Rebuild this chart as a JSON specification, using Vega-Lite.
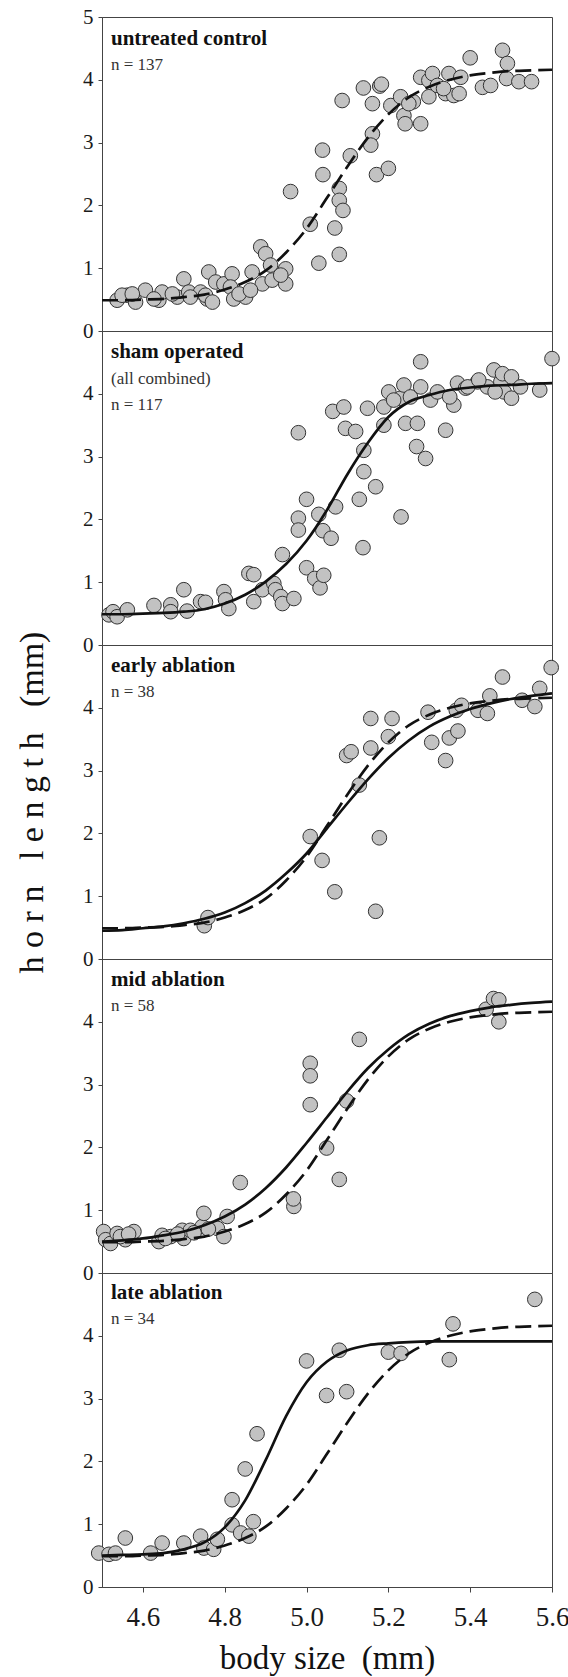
{
"$schema":"https://vega.github.io/schema/vega-lite/v6.json",
"background":"white",
"padding":{"left":14,"top":5,"right":0,"bottom":0},
"spacing":0,
"bounds":"flush",
"config":{"view":{"stroke":"#444","strokeWidth":1},"axis":{"grid":false,"domainColor":"#444","tickColor":"#444","labelFont":"Liberation Serif","titleFont":"Liberation Serif","labelColor":"#1a1a1a","titleColor":"#111","titleFontWeight":"normal"},"text":{"font":"Liberation Serif"}},
"datasets":{
"pts":[
{"p":1,"x":4.537,"y":0.49},{"p":1,"x":4.562,"y":0.57},{"p":1,"x":4.582,"y":0.46},{"p":1,"x":4.606,"y":0.65},{"p":1,"x":4.639,"y":0.49},{"p":1,"x":4.647,"y":0.62},{"p":1,"x":4.684,"y":0.54},{"p":1,"x":4.70,"y":0.83},{"p":1,"x":4.712,"y":0.62},{"p":1,"x":4.741,"y":0.62},{"p":1,"x":4.757,"y":0.51},{"p":1,"x":4.761,"y":0.94},{"p":1,"x":4.778,"y":0.78},{"p":1,"x":4.798,"y":0.75},{"p":1,"x":4.818,"y":0.91},{"p":1,"x":4.814,"y":0.70},{"p":1,"x":4.822,"y":0.51},{"p":1,"x":4.851,"y":0.54},{"p":1,"x":4.867,"y":0.94},{"p":1,"x":4.888,"y":1.34},{"p":1,"x":4.90,"y":1.23},{"p":1,"x":4.912,"y":1.05},{"p":1,"x":4.892,"y":0.75},{"p":1,"x":4.916,"y":0.81},{"p":1,"x":4.949,"y":0.99},{"p":1,"x":4.949,"y":0.75},
{"p":1,"x":4.549,"y":0.57},{"p":1,"x":4.574,"y":0.59},{"p":1,"x":4.627,"y":0.51},{"p":1,"x":4.672,"y":0.59},{"p":1,"x":4.716,"y":0.54},{"p":1,"x":4.753,"y":0.57},{"p":1,"x":4.77,"y":0.46},{"p":1,"x":4.835,"y":0.59},{"p":1,"x":4.863,"y":0.65},{"p":1,"x":4.937,"y":0.89},
{"p":1,"x":4.961,"y":2.22},{"p":1,"x":5.009,"y":1.70},{"p":1,"x":5.030,"y":1.08},{"p":1,"x":5.039,"y":2.88},{"p":1,"x":5.040,"y":2.49},{"p":1,"x":5.080,"y":2.27},{"p":1,"x":5.080,"y":2.08},{"p":1,"x":5.089,"y":1.92},{"p":1,"x":5.069,"y":1.64},{"p":1,"x":5.080,"y":1.22},{"p":1,"x":5.107,"y":2.79},
{"p":1,"x":5.087,"y":3.67},{"p":1,"x":5.139,"y":3.87},{"p":1,"x":5.179,"y":3.90},{"p":1,"x":5.161,"y":3.62},{"p":1,"x":5.206,"y":3.59},{"p":1,"x":5.230,"y":3.73},{"p":1,"x":5.238,"y":3.43},{"p":1,"x":5.241,"y":3.30},{"p":1,"x":5.261,"y":3.65},{"p":1,"x":5.279,"y":3.30},{"p":1,"x":5.161,"y":3.14},{"p":1,"x":5.157,"y":2.96},{"p":1,"x":5.279,"y":4.04},{"p":1,"x":5.299,"y":3.99},{"p":1,"x":5.308,"y":4.10},{"p":1,"x":5.299,"y":3.73},{"p":1,"x":5.320,"y":3.91},{"p":1,"x":5.348,"y":4.10},{"p":1,"x":5.340,"y":3.78},{"p":1,"x":5.360,"y":3.75},{"p":1,"x":5.373,"y":3.78},{"p":1,"x":5.377,"y":4.04},{"p":1,"x":5.400,"y":4.35},{"p":1,"x":5.430,"y":3.88},{"p":1,"x":5.450,"y":3.91},{"p":1,"x":5.479,"y":4.47},{"p":1,"x":5.491,"y":4.26},{"p":1,"x":5.489,"y":4.02},{"p":1,"x":5.171,"y":2.49},{"p":1,"x":5.200,"y":2.59},{"p":1,"x":5.519,"y":3.97},{"p":1,"x":5.550,"y":3.97},{"p":1,"x":5.183,"y":3.93},{"p":1,"x":5.25,"y":3.62},{"p":1,"x":5.335,"y":3.86},
{"p":2,"x":4.517,"y":0.48},{"p":2,"x":4.527,"y":0.53},{"p":2,"x":4.537,"y":0.45},{"p":2,"x":4.562,"y":0.56},{"p":2,"x":4.627,"y":0.63},{"p":2,"x":4.668,"y":0.64},{"p":2,"x":4.668,"y":0.53},{"p":2,"x":4.70,"y":0.88},{"p":2,"x":4.708,"y":0.54},{"p":2,"x":4.741,"y":0.69},{"p":2,"x":4.753,"y":0.68},{"p":2,"x":4.798,"y":0.85},{"p":2,"x":4.802,"y":0.72},{"p":2,"x":4.810,"y":0.58},{"p":2,"x":4.859,"y":1.14},{"p":2,"x":4.871,"y":1.12},{"p":2,"x":4.871,"y":0.69},{"p":2,"x":4.892,"y":0.88},{"p":2,"x":4.92,"y":0.98},{"p":2,"x":4.924,"y":0.88},{"p":2,"x":4.937,"y":0.77},{"p":2,"x":4.941,"y":0.66},{"p":2,"x":4.969,"y":0.74},{"p":2,"x":4.941,"y":1.44},{"p":2,"x":5.0,"y":1.23},{"p":2,"x":5.02,"y":1.06},{"p":2,"x":5.033,"y":0.91},{"p":2,"x":5.042,"y":1.11},
{"p":2,"x":4.980,"y":3.38},{"p":2,"x":4.980,"y":2.02},{"p":2,"x":4.980,"y":1.83},{"p":2,"x":5.000,"y":2.32},{"p":2,"x":5.030,"y":2.08},{"p":2,"x":5.040,"y":1.82},{"p":2,"x":5.060,"y":1.70},{"p":2,"x":5.071,"y":2.20},{"p":2,"x":5.064,"y":3.72},{"p":2,"x":5.091,"y":3.79},{"p":2,"x":5.095,"y":3.45},{"p":2,"x":5.120,"y":3.40},{"p":2,"x":5.140,"y":3.10},{"p":2,"x":5.140,"y":2.76},{"p":2,"x":5.129,"y":2.32},{"p":2,"x":5.169,"y":2.52},{"p":2,"x":5.138,"y":1.55},{"p":2,"x":5.231,"y":2.04},
{"p":2,"x":5.279,"y":4.51},{"p":2,"x":5.149,"y":3.77},{"p":2,"x":5.189,"y":3.50},{"p":2,"x":5.189,"y":3.79},{"p":2,"x":5.201,"y":4.03},{"p":2,"x":5.230,"y":3.93},{"p":2,"x":5.238,"y":4.14},{"p":2,"x":5.242,"y":3.53},{"p":2,"x":5.254,"y":3.95},{"p":2,"x":5.271,"y":3.53},{"p":2,"x":5.279,"y":4.11},{"p":2,"x":5.269,"y":3.16},{"p":2,"x":5.291,"y":2.97},{"p":2,"x":5.303,"y":3.90},{"p":2,"x":5.320,"y":4.03},{"p":2,"x":5.340,"y":3.42},{"p":2,"x":5.360,"y":3.82},{"p":2,"x":5.369,"y":4.17},{"p":2,"x":5.389,"y":4.09},{"p":2,"x":5.418,"y":4.19},{"p":2,"x":5.442,"y":4.11},{"p":2,"x":5.458,"y":4.38},{"p":2,"x":5.475,"y":4.19},{"p":2,"x":5.479,"y":4.32},{"p":2,"x":5.483,"y":4.03},{"p":2,"x":5.213,"y":3.90},{"p":2,"x":5.350,"y":3.95},{"p":2,"x":5.394,"y":4.11},{"p":2,"x":5.461,"y":4.03},{"p":2,"x":5.501,"y":4.27},{"p":2,"x":5.501,"y":3.93},{"p":2,"x":5.523,"y":4.11},{"p":2,"x":5.570,"y":4.06},{"p":2,"x":5.600,"y":4.56},{"p":2,"x":5.421,"y":4.22},
{"p":3,"x":4.750,"y":0.53},{"p":3,"x":4.759,"y":0.66},{"p":3,"x":5.009,"y":1.95},{"p":3,"x":5.038,"y":1.57},{"p":3,"x":5.069,"y":1.07},{"p":3,"x":5.098,"y":3.24},{"p":3,"x":5.109,"y":3.30},{"p":3,"x":5.129,"y":2.77},{"p":3,"x":5.157,"y":3.83},{"p":3,"x":5.157,"y":3.36},{"p":3,"x":5.178,"y":1.93},{"p":3,"x":5.169,"y":0.76},{"p":3,"x":5.200,"y":3.54},{"p":3,"x":5.209,"y":3.83},{"p":3,"x":5.297,"y":3.93},{"p":3,"x":5.306,"y":3.45},{"p":3,"x":5.340,"y":3.16},{"p":3,"x":5.349,"y":3.52},{"p":3,"x":5.370,"y":3.63},{"p":3,"x":5.366,"y":3.96},{"p":3,"x":5.379,"y":4.04},{"p":3,"x":5.419,"y":3.96},{"p":3,"x":5.442,"y":3.91},{"p":3,"x":5.448,"y":4.19},{"p":3,"x":5.479,"y":4.49},{"p":3,"x":5.527,"y":4.12},{"p":3,"x":5.558,"y":4.02},{"p":3,"x":5.570,"y":4.31},{"p":3,"x":5.598,"y":4.64},
{"p":4,"x":4.504,"y":0.66},{"p":4,"x":4.509,"y":0.53},{"p":4,"x":4.521,"y":0.47},{"p":4,"x":4.537,"y":0.63},{"p":4,"x":4.557,"y":0.53},{"p":4,"x":4.578,"y":0.66},{"p":4,"x":4.639,"y":0.50},{"p":4,"x":4.647,"y":0.60},{"p":4,"x":4.668,"y":0.58},{"p":4,"x":4.696,"y":0.68},{"p":4,"x":4.70,"y":0.55},{"p":4,"x":4.716,"y":0.68},{"p":4,"x":4.745,"y":0.74},{"p":4,"x":4.749,"y":0.95},{"p":4,"x":4.782,"y":0.71},{"p":4,"x":4.798,"y":0.58},{"p":4,"x":4.806,"y":0.90},{"p":4,"x":4.969,"y":1.06},{"p":4,"x":4.545,"y":0.58},{"p":4,"x":4.565,"y":0.62},{"p":4,"x":4.655,"y":0.55},{"p":4,"x":4.685,"y":0.62},{"p":4,"x":4.725,"y":0.64},{"p":4,"x":4.76,"y":0.70},
{"p":4,"x":4.838,"y":1.44},{"p":4,"x":4.968,"y":1.18},{"p":4,"x":5.009,"y":3.34},{"p":4,"x":5.009,"y":3.14},{"p":4,"x":5.009,"y":2.68},{"p":4,"x":5.049,"y":1.99},{"p":4,"x":5.080,"y":1.49},{"p":4,"x":5.098,"y":2.74},{"p":4,"x":5.129,"y":3.72},{"p":4,"x":5.439,"y":4.20},{"p":4,"x":5.457,"y":4.37},{"p":4,"x":5.470,"y":4.35},{"p":4,"x":5.470,"y":4.00},
{"p":5,"x":4.492,"y":0.54},{"p":5,"x":4.517,"y":0.52},{"p":5,"x":4.533,"y":0.54},{"p":5,"x":4.557,"y":0.78},{"p":5,"x":4.619,"y":0.54},{"p":5,"x":4.647,"y":0.70},{"p":5,"x":4.70,"y":0.70},{"p":5,"x":4.741,"y":0.81},{"p":5,"x":4.749,"y":0.62},{"p":5,"x":4.773,"y":0.60},{"p":5,"x":4.782,"y":0.76},{"p":5,"x":4.818,"y":0.99},{"p":5,"x":4.818,"y":1.39},{"p":5,"x":4.839,"y":0.86},{"p":5,"x":4.859,"y":0.81},{"p":5,"x":4.87,"y":1.04},
{"p":5,"x":4.850,"y":1.88},{"p":5,"x":4.879,"y":2.44},{"p":5,"x":5.000,"y":3.60},{"p":5,"x":5.049,"y":3.05},{"p":5,"x":5.080,"y":3.77},{"p":5,"x":5.098,"y":3.11},{"p":5,"x":5.200,"y":3.74},{"p":5,"x":5.231,"y":3.72},{"p":5,"x":5.349,"y":3.62},{"p":5,"x":5.358,"y":4.19},{"p":5,"x":5.558,"y":4.58}
],
"curves":[
{"c":"control","x":4.5,"y":0.49},{"c":"control","x":4.55,"y":0.49},{"c":"control","x":4.6,"y":0.50},{"c":"control","x":4.65,"y":0.51},{"c":"control","x":4.7,"y":0.54},{"c":"control","x":4.75,"y":0.58},{"c":"control","x":4.8,"y":0.66},{"c":"control","x":4.85,"y":0.78},{"c":"control","x":4.9,"y":0.96},{"c":"control","x":4.95,"y":1.25},{"c":"control","x":5.0,"y":1.63},{"c":"control","x":5.05,"y":2.12},{"c":"control","x":5.1,"y":2.62},{"c":"control","x":5.15,"y":3.08},{"c":"control","x":5.2,"y":3.45},{"c":"control","x":5.25,"y":3.72},{"c":"control","x":5.3,"y":3.89},{"c":"control","x":5.35,"y":4.0},{"c":"control","x":5.4,"y":4.07},{"c":"control","x":5.45,"y":4.11},{"c":"control","x":5.5,"y":4.14},{"c":"control","x":5.55,"y":4.15},{"c":"control","x":5.6,"y":4.16},
{"c":"sham","x":4.5,"y":0.49},{"c":"sham","x":4.55,"y":0.49},{"c":"sham","x":4.6,"y":0.50},{"c":"sham","x":4.65,"y":0.51},{"c":"sham","x":4.7,"y":0.53},{"c":"sham","x":4.75,"y":0.57},{"c":"sham","x":4.8,"y":0.66},{"c":"sham","x":4.85,"y":0.80},{"c":"sham","x":4.9,"y":1.01},{"c":"sham","x":4.95,"y":1.29},{"c":"sham","x":5.0,"y":1.66},{"c":"sham","x":5.05,"y":2.15},{"c":"sham","x":5.1,"y":2.72},{"c":"sham","x":5.15,"y":3.22},{"c":"sham","x":5.2,"y":3.63},{"c":"sham","x":5.25,"y":3.87},{"c":"sham","x":5.3,"y":3.98},{"c":"sham","x":5.35,"y":4.06},{"c":"sham","x":5.4,"y":4.10},{"c":"sham","x":5.45,"y":4.13},{"c":"sham","x":5.5,"y":4.14},{"c":"sham","x":5.55,"y":4.16},{"c":"sham","x":5.6,"y":4.17},
{"c":"early","x":4.5,"y":0.45},{"c":"early","x":4.55,"y":0.46},{"c":"early","x":4.6,"y":0.49},{"c":"early","x":4.65,"y":0.52},{"c":"early","x":4.7,"y":0.57},{"c":"early","x":4.75,"y":0.64},{"c":"early","x":4.8,"y":0.74},{"c":"early","x":4.85,"y":0.89},{"c":"early","x":4.9,"y":1.09},{"c":"early","x":4.95,"y":1.36},{"c":"early","x":5.0,"y":1.68},{"c":"early","x":5.05,"y":2.08},{"c":"early","x":5.1,"y":2.48},{"c":"early","x":5.15,"y":2.86},{"c":"early","x":5.2,"y":3.2},{"c":"early","x":5.25,"y":3.48},{"c":"early","x":5.3,"y":3.7},{"c":"early","x":5.35,"y":3.86},{"c":"early","x":5.4,"y":3.98},{"c":"early","x":5.45,"y":4.07},{"c":"early","x":5.5,"y":4.14},{"c":"early","x":5.55,"y":4.19},{"c":"early","x":5.6,"y":4.23},
{"c":"mid","x":4.5,"y":0.5},{"c":"mid","x":4.55,"y":0.52},{"c":"mid","x":4.6,"y":0.55},{"c":"mid","x":4.65,"y":0.60},{"c":"mid","x":4.7,"y":0.66},{"c":"mid","x":4.75,"y":0.76},{"c":"mid","x":4.8,"y":0.9},{"c":"mid","x":4.85,"y":1.09},{"c":"mid","x":4.9,"y":1.35},{"c":"mid","x":4.95,"y":1.68},{"c":"mid","x":5.0,"y":2.07},{"c":"mid","x":5.05,"y":2.48},{"c":"mid","x":5.1,"y":2.89},{"c":"mid","x":5.15,"y":3.26},{"c":"mid","x":5.2,"y":3.56},{"c":"mid","x":5.25,"y":3.80},{"c":"mid","x":5.3,"y":3.97},{"c":"mid","x":5.35,"y":4.09},{"c":"mid","x":5.4,"y":4.17},{"c":"mid","x":5.45,"y":4.23},{"c":"mid","x":5.5,"y":4.27},{"c":"mid","x":5.55,"y":4.30},{"c":"mid","x":5.6,"y":4.32},
{"c":"late","x":4.5,"y":0.5},{"c":"late","x":4.55,"y":0.51},{"c":"late","x":4.6,"y":0.52},{"c":"late","x":4.65,"y":0.54},{"c":"late","x":4.7,"y":0.6},{"c":"late","x":4.75,"y":0.71},{"c":"late","x":4.8,"y":0.95},{"c":"late","x":4.85,"y":1.38},{"c":"late","x":4.9,"y":2.02},{"c":"late","x":4.95,"y":2.72},{"c":"late","x":5.0,"y":3.26},{"c":"late","x":5.05,"y":3.59},{"c":"late","x":5.1,"y":3.77},{"c":"late","x":5.15,"y":3.85},{"c":"late","x":5.2,"y":3.88},{"c":"late","x":5.25,"y":3.90},{"c":"late","x":5.3,"y":3.91},{"c":"late","x":5.4,"y":3.91},{"c":"late","x":5.5,"y":3.91},{"c":"late","x":5.6,"y":3.91}
]
},
"vconcat":[
{"width":450,"height":314,
"layer":[
{"data":{"name":"pts"},"transform":[{"filter":"datum.p === 1"}],"mark":{"type":"circle","size":215,"opacity":1,"fill":"#c2c2c2","stroke":"#333","strokeWidth":1},
"encoding":{"x":{"field":"x","type":"quantitative","scale":{"domain":[4.5,5.6],"nice":false,"zero":false},"axis":null},"y":{"field":"y","type":"quantitative","scale":{"domain":[0,5],"nice":false},"axis":{"values":[0,1,2,3,4,5],"title":null,"tickSize":4,"labelFontSize":21,"labelPadding":5}}}},
{"data":{"name":"curves"},"transform":[{"filter":"datum.c === 'control'"}],"mark":{"type":"line","color":"#111","strokeWidth":2.7,"strokeDash":[16,7],"interpolate":"monotone"},
"encoding":{"x":{"field":"x","type":"quantitative","axis":null},"y":{"field":"y","type":"quantitative","axis":{"values":[0,1,2,3,4,5],"title":null,"tickSize":4,"labelFontSize":21,"labelPadding":5}}}},
{"data":{"values":[{"t":"untreated control"}]},"mark":{"type":"text","font":"Liberation Serif","fontSize":21,"fontWeight":"bold","align":"left","baseline":"alphabetic","color":"#111"},
"encoding":{"x":{"datum":4.522,"type":"quantitative","axis":null},"y":{"datum":4.56,"type":"quantitative","axis":{"values":[0,1,2,3,4,5],"title":null,"tickSize":4,"labelFontSize":21,"labelPadding":5}},"text":{"field":"t","type":"nominal"}}},
{"data":{"values":[{"t":"n = 137"}]},"mark":{"type":"text","font":"Liberation Serif","fontSize":17,"align":"left","baseline":"alphabetic","color":"#333"},
"encoding":{"x":{"datum":4.522,"type":"quantitative","axis":null},"y":{"datum":4.16,"type":"quantitative","axis":{"values":[0,1,2,3,4,5],"title":null,"tickSize":4,"labelFontSize":21,"labelPadding":5}},"text":{"field":"t","type":"nominal"}}}
]},
{"width":450,"height":314,
"layer":[
{"data":{"name":"pts"},"transform":[{"filter":"datum.p === 2"}],"mark":{"type":"circle","size":215,"opacity":1,"fill":"#c2c2c2","stroke":"#333","strokeWidth":1},
"encoding":{"x":{"field":"x","type":"quantitative","scale":{"domain":[4.5,5.6],"nice":false,"zero":false},"axis":null},"y":{"field":"y","type":"quantitative","scale":{"domain":[0,5],"nice":false},"axis":{"values":[0,1,2,3,4],"title":null,"tickSize":4,"labelFontSize":21,"labelPadding":5}}}},
{"data":{"name":"curves"},"transform":[{"filter":"datum.c === 'sham'"}],"mark":{"type":"line","color":"#111","strokeWidth":2.7,"interpolate":"monotone"},
"encoding":{"x":{"field":"x","type":"quantitative","axis":null},"y":{"field":"y","type":"quantitative","axis":{"values":[0,1,2,3,4],"title":null,"tickSize":4,"labelFontSize":21,"labelPadding":5}}}},
{"data":{"values":[{"t":"sham operated"}]},"mark":{"type":"text","font":"Liberation Serif","fontSize":21,"fontWeight":"bold","align":"left","baseline":"alphabetic","color":"#111"},
"encoding":{"x":{"datum":4.522,"type":"quantitative","axis":null},"y":{"datum":4.57,"type":"quantitative","axis":{"values":[0,1,2,3,4],"title":null,"tickSize":4,"labelFontSize":21,"labelPadding":5}},"text":{"field":"t","type":"nominal"}}},
{"data":{"values":[{"t":"(all combined)"}]},"mark":{"type":"text","font":"Liberation Serif","fontSize":17,"align":"left","baseline":"alphabetic","color":"#333"},
"encoding":{"x":{"datum":4.522,"type":"quantitative","axis":null},"y":{"datum":4.15,"type":"quantitative","axis":{"values":[0,1,2,3,4],"title":null,"tickSize":4,"labelFontSize":21,"labelPadding":5}},"text":{"field":"t","type":"nominal"}}},
{"data":{"values":[{"t":"n = 117"}]},"mark":{"type":"text","font":"Liberation Serif","fontSize":17,"align":"left","baseline":"alphabetic","color":"#333"},
"encoding":{"x":{"datum":4.522,"type":"quantitative","axis":null},"y":{"datum":3.74,"type":"quantitative","axis":{"values":[0,1,2,3,4],"title":null,"tickSize":4,"labelFontSize":21,"labelPadding":5}},"text":{"field":"t","type":"nominal"}}}
]},
{"width":450,"height":314,
"layer":[
{"data":{"name":"pts"},"transform":[{"filter":"datum.p === 3"}],"mark":{"type":"circle","size":215,"opacity":1,"fill":"#c2c2c2","stroke":"#333","strokeWidth":1},
"encoding":{"x":{"field":"x","type":"quantitative","scale":{"domain":[4.5,5.6],"nice":false,"zero":false},"axis":null},"y":{"field":"y","type":"quantitative","scale":{"domain":[0,5],"nice":false},"axis":{"values":[0,1,2,3,4],"title":"h o r n \u00a0 l e n g t h \u00a0 (mm)","titleFontSize":34,"titlePadding":33,"tickSize":4,"labelFontSize":21,"labelPadding":5}}}},
{"data":{"name":"curves"},"transform":[{"filter":"datum.c === 'control'"}],"mark":{"type":"line","color":"#111","strokeWidth":2.7,"strokeDash":[16,7],"interpolate":"monotone"},
"encoding":{"x":{"field":"x","type":"quantitative","axis":null},"y":{"field":"y","type":"quantitative","axis":{"values":[0,1,2,3,4],"title":"h o r n \u00a0 l e n g t h \u00a0 (mm)","titleFontSize":34,"titlePadding":33,"tickSize":4,"labelFontSize":21,"labelPadding":5}}}},
{"data":{"name":"curves"},"transform":[{"filter":"datum.c === 'early'"}],"mark":{"type":"line","color":"#111","strokeWidth":2.7,"interpolate":"monotone"},
"encoding":{"x":{"field":"x","type":"quantitative","axis":null},"y":{"field":"y","type":"quantitative","axis":{"values":[0,1,2,3,4],"title":"h o r n \u00a0 l e n g t h \u00a0 (mm)","titleFontSize":34,"titlePadding":33,"tickSize":4,"labelFontSize":21,"labelPadding":5}}}},
{"data":{"values":[{"t":"early ablation"}]},"mark":{"type":"text","font":"Liberation Serif","fontSize":21,"fontWeight":"bold","align":"left","baseline":"alphabetic","color":"#111"},
"encoding":{"x":{"datum":4.522,"type":"quantitative","axis":null},"y":{"datum":4.57,"type":"quantitative","axis":{"values":[0,1,2,3,4],"title":"h o r n \u00a0 l e n g t h \u00a0 (mm)","titleFontSize":34,"titlePadding":33,"tickSize":4,"labelFontSize":21,"labelPadding":5}},"text":{"field":"t","type":"nominal"}}},
{"data":{"values":[{"t":"n = 38"}]},"mark":{"type":"text","font":"Liberation Serif","fontSize":17,"align":"left","baseline":"alphabetic","color":"#333"},
"encoding":{"x":{"datum":4.522,"type":"quantitative","axis":null},"y":{"datum":4.17,"type":"quantitative","axis":{"values":[0,1,2,3,4],"title":"h o r n \u00a0 l e n g t h \u00a0 (mm)","titleFontSize":34,"titlePadding":33,"tickSize":4,"labelFontSize":21,"labelPadding":5}},"text":{"field":"t","type":"nominal"}}}
]},
{"width":450,"height":314,
"layer":[
{"data":{"name":"pts"},"transform":[{"filter":"datum.p === 4"}],"mark":{"type":"circle","size":215,"opacity":1,"fill":"#c2c2c2","stroke":"#333","strokeWidth":1},
"encoding":{"x":{"field":"x","type":"quantitative","scale":{"domain":[4.5,5.6],"nice":false,"zero":false},"axis":null},"y":{"field":"y","type":"quantitative","scale":{"domain":[0,5],"nice":false},"axis":{"values":[0,1,2,3,4],"title":null,"tickSize":4,"labelFontSize":21,"labelPadding":5}}}},
{"data":{"name":"curves"},"transform":[{"filter":"datum.c === 'control'"}],"mark":{"type":"line","color":"#111","strokeWidth":2.7,"strokeDash":[16,7],"interpolate":"monotone"},
"encoding":{"x":{"field":"x","type":"quantitative","axis":null},"y":{"field":"y","type":"quantitative","axis":{"values":[0,1,2,3,4],"title":null,"tickSize":4,"labelFontSize":21,"labelPadding":5}}}},
{"data":{"name":"curves"},"transform":[{"filter":"datum.c === 'mid'"}],"mark":{"type":"line","color":"#111","strokeWidth":2.7,"interpolate":"monotone"},
"encoding":{"x":{"field":"x","type":"quantitative","axis":null},"y":{"field":"y","type":"quantitative","axis":{"values":[0,1,2,3,4],"title":null,"tickSize":4,"labelFontSize":21,"labelPadding":5}}}},
{"data":{"values":[{"t":"mid ablation"}]},"mark":{"type":"text","font":"Liberation Serif","fontSize":21,"fontWeight":"bold","align":"left","baseline":"alphabetic","color":"#111"},
"encoding":{"x":{"datum":4.522,"type":"quantitative","axis":null},"y":{"datum":4.57,"type":"quantitative","axis":{"values":[0,1,2,3,4],"title":null,"tickSize":4,"labelFontSize":21,"labelPadding":5}},"text":{"field":"t","type":"nominal"}}},
{"data":{"values":[{"t":"n = 58"}]},"mark":{"type":"text","font":"Liberation Serif","fontSize":17,"align":"left","baseline":"alphabetic","color":"#333"},
"encoding":{"x":{"datum":4.522,"type":"quantitative","axis":null},"y":{"datum":4.17,"type":"quantitative","axis":{"values":[0,1,2,3,4],"title":null,"tickSize":4,"labelFontSize":21,"labelPadding":5}},"text":{"field":"t","type":"nominal"}}}
]},
{"width":450,"height":314,
"layer":[
{"data":{"name":"pts"},"transform":[{"filter":"datum.p === 5"}],"mark":{"type":"circle","size":215,"opacity":1,"fill":"#c2c2c2","stroke":"#333","strokeWidth":1},
"encoding":{"x":{"field":"x","type":"quantitative","scale":{"domain":[4.5,5.6],"nice":false,"zero":false},"axis":{"values":[4.6,4.8,5.0,5.2,5.4,5.6],"format":".1f","labelFontSize":27,"tickSize":5,"labelPadding":12,"labelFlush":false,"labelOverlap":false,"title":"body size\u00a0 (mm)","titleFontSize":33,"titlePadding":12}},"y":{"field":"y","type":"quantitative","scale":{"domain":[0,5],"nice":false},"axis":{"values":[0,1,2,3,4],"title":null,"tickSize":4,"labelFontSize":21,"labelPadding":5}}}},
{"data":{"name":"curves"},"transform":[{"filter":"datum.c === 'control'"}],"mark":{"type":"line","color":"#111","strokeWidth":2.7,"strokeDash":[16,7],"interpolate":"monotone"},
"encoding":{"x":{"field":"x","type":"quantitative","axis":{"values":[4.6,4.8,5.0,5.2,5.4,5.6],"format":".1f","labelFontSize":27,"tickSize":5,"labelPadding":12,"labelFlush":false,"labelOverlap":false,"title":"body size\u00a0 (mm)","titleFontSize":33,"titlePadding":12}},"y":{"field":"y","type":"quantitative","axis":{"values":[0,1,2,3,4],"title":null,"tickSize":4,"labelFontSize":21,"labelPadding":5}}}},
{"data":{"name":"curves"},"transform":[{"filter":"datum.c === 'late'"}],"mark":{"type":"line","color":"#111","strokeWidth":2.7,"interpolate":"monotone"},
"encoding":{"x":{"field":"x","type":"quantitative","axis":{"values":[4.6,4.8,5.0,5.2,5.4,5.6],"format":".1f","labelFontSize":27,"tickSize":5,"labelPadding":12,"labelFlush":false,"labelOverlap":false,"title":"body size\u00a0 (mm)","titleFontSize":33,"titlePadding":12}},"y":{"field":"y","type":"quantitative","axis":{"values":[0,1,2,3,4],"title":null,"tickSize":4,"labelFontSize":21,"labelPadding":5}}}},
{"data":{"values":[{"t":"late ablation"}]},"mark":{"type":"text","font":"Liberation Serif","fontSize":21,"fontWeight":"bold","align":"left","baseline":"alphabetic","color":"#111"},
"encoding":{"x":{"datum":4.522,"type":"quantitative","axis":{"values":[4.6,4.8,5.0,5.2,5.4,5.6],"format":".1f","labelFontSize":27,"tickSize":5,"labelPadding":12,"labelFlush":false,"labelOverlap":false,"title":"body size\u00a0 (mm)","titleFontSize":33,"titlePadding":12}},"y":{"datum":4.58,"type":"quantitative","axis":{"values":[0,1,2,3,4],"title":null,"tickSize":4,"labelFontSize":21,"labelPadding":5}},"text":{"field":"t","type":"nominal"}}},
{"data":{"values":[{"t":"n = 34"}]},"mark":{"type":"text","font":"Liberation Serif","fontSize":17,"align":"left","baseline":"alphabetic","color":"#333"},
"encoding":{"x":{"datum":4.522,"type":"quantitative","axis":{"values":[4.6,4.8,5.0,5.2,5.4,5.6],"format":".1f","labelFontSize":27,"tickSize":5,"labelPadding":12,"labelFlush":false,"labelOverlap":false,"title":"body size\u00a0 (mm)","titleFontSize":33,"titlePadding":12}},"y":{"datum":4.18,"type":"quantitative","axis":{"values":[0,1,2,3,4],"title":null,"tickSize":4,"labelFontSize":21,"labelPadding":5}},"text":{"field":"t","type":"nominal"}}}
]}
]
}
